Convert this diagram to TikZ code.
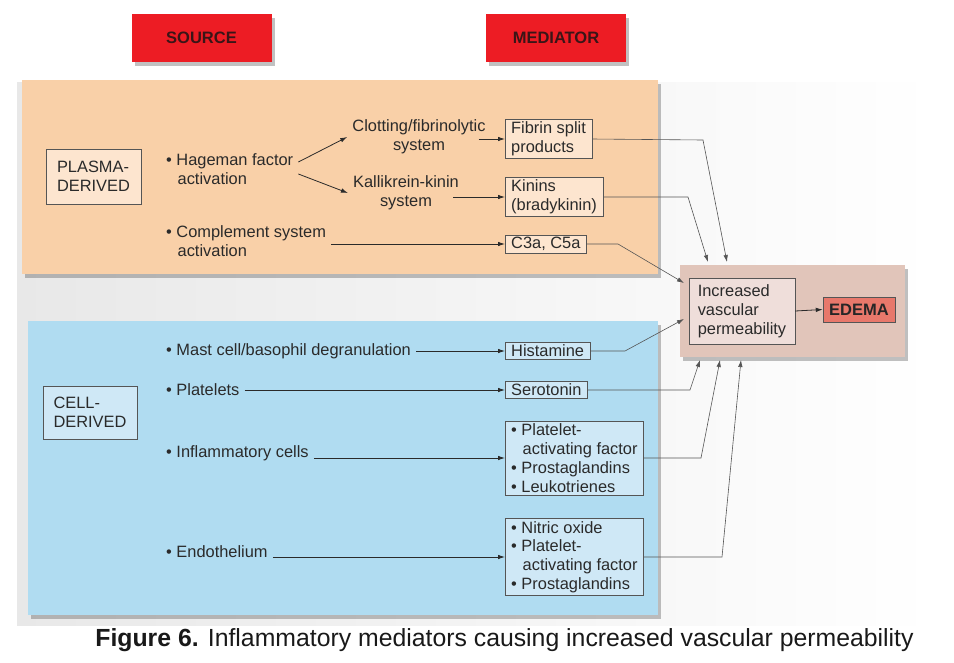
\documentclass[tikz,border=0pt]{standalone}
\usepackage{fontspec}
\setmainfont{Liberation Sans}
\usetikzlibrary{arrows.meta,shadows}

\definecolor{hdrred}{HTML}{ED1C24}
\definecolor{hdrtext}{HTML}{3A1517}
\definecolor{plasmafill}{HTML}{F9D0A8}
\definecolor{plasmabox}{HTML}{FDE5CF}
\definecolor{cellfill}{HTML}{B0DCF1}
\definecolor{cellbox}{HTML}{CFE8F6}
\definecolor{permfill}{HTML}{E1C5BA}
\definecolor{permbox}{HTML}{EFDEDA}
\definecolor{edemafill}{HTML}{E8786B}
\definecolor{boxgray}{HTML}{555555}
\definecolor{inkgray}{HTML}{2A2A2A}

\tikzset{
  txt/.style={font=\fontsize{16.4}{18.8}\selectfont, text=inkgray, inner sep=5pt},
  bullet/.style={txt, anchor=west, align=left},
  panel/.style={draw=none, minimum width=#1, inner sep=0pt,
     drop shadow={shadow xshift=3pt, shadow yshift=-4pt, opacity=.35, fill=black!70}},
  header/.style={fill=hdrred, panel=140pt, minimum height=48pt,
     font=\fontsize{16.5}{18}\selectfont\bfseries, text=hdrtext},
  medbox/.style={txt, draw=boxgray, anchor=west, align=left, inner xsep=6pt, inner ysep=2.5pt},
  arr/.style={draw=inkgray, thick, -{Latex[length=7pt,width=4.5pt]}},
  link/.style={draw=boxgray, semithick, -{Latex[length=7pt,width=4.5pt]}}
}

\newcommand{\hang}{\hspace*{0.7em}}

\begin{document}
\begin{tikzpicture}[x=1pt,y=-1pt]
  \useasboundingbox (0,0) rectangle (954,662);

  % background
  \shade[left color=black!9, right color=white] (17,82) rectangle (935,625);

  % headers
  \node[header] (source) at (201.5,38) {SOURCE};
  \node[header] (mediator) at (556,38) {MEDIATOR};

  % panels
  \node[panel=636pt, minimum height=194pt, fill=plasmafill] (plasma) at (340,177) {};
  \node[panel=630pt, minimum height=294pt, fill=cellfill] (cell) at (343,468) {};
  \node[panel=225pt, minimum height=92pt, fill=permfill] (permpanel) at (792.5,311) {};

  % plasma-derived
  \node[txt, draw=boxgray, fill=plasmabox, align=left, minimum width=95pt, minimum height=55pt, inner sep=3pt]
       (pla) at (93.5,176.5) {PLASMA-\\DERIVED};
  \node[bullet] (hag) at (161,169) {• Hageman factor\\\hang activation};
  \node[txt, align=center] (clot) at (419,137) {Clotting/fibrinolytic\\system};
  \node[txt, align=center] (kal) at (406,193) {Kallikrein-kinin\\system};
  \node[bullet] (comp) at (161,241) {• Complement system\\\hang activation};

  \node[medbox, fill=plasmabox] (fib) at (505,139) {Fibrin split\\products};
  \node[medbox, fill=plasmabox] (kin) at (505,197) {Kinins\\(bradykinin)};
  \node[medbox, fill=plasmabox] (c3a) at (505,244) {C3a, C5a};

  \draw[arr] ([yshift=7pt]hag.east) -- (clot.west);
  \draw[arr] ([yshift=-5pt]hag.east) -- (kal.west);
  \draw[arr] ([xshift=-12pt]clot.east |- fib.west) -- (fib.west);
  \draw[arr] ([xshift=-11pt]kal.east |- kin.west) -- (kin.west);
  \draw[arr] (comp.east |- c3a.west) -- (c3a.west);

  % cell-derived
  \node[txt, draw=boxgray, fill=cellbox, align=left, minimum width=94pt, minimum height=53pt, inner sep=3pt]
       (cel) at (90,412.5) {CELL-\\DERIVED};
  \node[bullet] (mast) at (161,351) {• Mast cell/basophil degranulation};
  \node[bullet] (plt) at (161,390) {• Platelets};
  \node[bullet] (infl) at (161,453) {• Inflammatory cells};
  \node[bullet] (endo) at (161,552) {• Endothelium};

  \node[medbox, fill=cellbox] (hist) at (505,351) {Histamine};
  \node[medbox, fill=cellbox] (sero) at (505,390) {Serotonin};
  \node[medbox, fill=cellbox] (infbox) at (505,458)
       {• Platelet-\\\hang activating factor\\• Prostaglandins\\• Leukotrienes};
  \node[medbox, fill=cellbox] (endbox) at (505,557)
       {• Nitric oxide\\• Platelet-\\\hang activating factor\\• Prostaglandins};

  \draw[arr] (mast.east) -- (hist.west);
  \draw[arr] (plt.east) -- (sero.west);
  \draw[arr] (infl.east |- infbox.west) -- (infbox.west);
  \draw[arr] (endo.east |- endbox.west) -- (endbox.west);

  % vascular permeability
  \node[txt, draw=boxgray, fill=permbox, align=left, minimum width=106pt, minimum height=66pt, inner sep=3pt]
       (perm) at (742,311) {Increased\\vascular\\permeability};
  \node[txt, draw=boxgray, fill=edemafill, font=\fontsize{16.5}{18}\selectfont\bfseries,
        text=black!85, minimum width=72pt, minimum height=25pt, inner sep=2pt]
       (edema) at (859,309.5) {EDEMA};
  \draw[arr] (perm.east) -- (edema.west);

  % converging connectors
  \coordinate (e1) at (727,262);
  \coordinate (e2) at (708,262);
  \coordinate (e3) at (684,283);
  \coordinate (e4) at (684,319);
  \coordinate (e5) at (700,360);
  \coordinate (e6) at (720,360);
  \coordinate (e7) at (741,360);

  \draw[link] (fib.east) -- (703,140) -- (e1);
  \draw[link] (kin.east) -- (688,197) -- (e2);
  \draw[link] (c3a.east) -- (618,244) -- (e3);
  \draw[link] (hist.east) -- (625,351) -- (e4);
  \draw[link] (sero.east) -- (690,390) -- (e5);
  \draw[link] (infbox.east) -- (701,458) -- (e6);
  \draw[link] (endbox.east) -- (722,557) -- (e7);

  % caption
  \node[font=\fontsize{24.8}{28}\selectfont, text=black!90, inner sep=0pt] (caption) at (504.5,640)
       {\textbf{Figure 6.} Inflammatory mediators causing increased vascular permeability};
\end{tikzpicture}
\end{document}
